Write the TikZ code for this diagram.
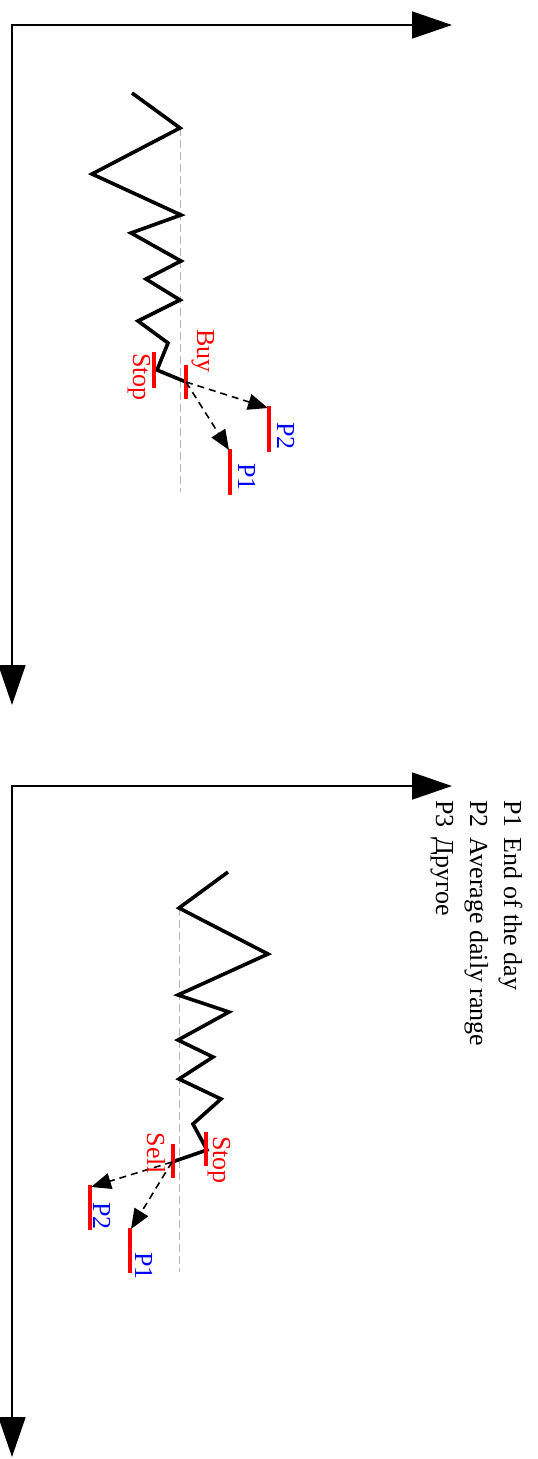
\documentclass[tikz,border=0pt]{standalone}
\usepackage{fontspec}
\setmainfont{Liberation Serif}
\usetikzlibrary{arrows.meta}

\begin{document}
\begin{tikzpicture}[x=1pt,y=-1pt,
        axis/.style={line width=1.8pt,{Triangle[length=40pt,width=27pt]}-{Triangle[length=40pt,width=27pt]}},
        zig/.style={line width=3.6pt},
        level/.style={red,line width=3.4pt},
        guide/.style={gray!60,line width=1pt,dash pattern=on 8pt off 4pt},
        target/.style={line width=1.6pt,dash pattern=on 7pt off 5pt,-{Triangle[length=20pt,width=16pt]}},
        lbl/.style={rotate=-90,anchor=base,inner sep=0pt,font=\fontsize{26}{30}\selectfont}]
        \useasboundingbox (0,0) rectangle (538,1459);

        % upper chart: buy
        \draw[axis] (12,705) -- (12,25) -- (452,25);
        \draw[guide] (180,128) -- (180,492);
        \coordinate (stopA) at (157,370);
        \coordinate (buy) at (186,382);
        \draw[zig] (132,93) -- (180,128) -- (92,174) -- (181,215) -- (131,233) -- (181,261)
                -- (146,279) -- (180,300) -- (138,321) -- (168,343) -- (stopA) -- (buy);
        \draw[level] (154,352) -- (154,388);
        \draw[level] (186,365) -- (186,399);
        \draw[level] (269,406) -- (269,452);
        \draw[level] (230,449) -- (230,495);
        \coordinate (p2A) at (268,408);
        \coordinate (p1A) at (229,450);
        \draw[target] (buy) -- (p2A);
        \draw[target] (buy) -- (p1A);
        \node[lbl,red] (stoplblA) at (133,377) {Stop};
        \node[lbl,red] (buylbl) at (197,351) {Buy};
        \node[lbl,blue] (p2lblA) at (277,436) {P2};
        \node[lbl,blue] (p1lblA) at (238,477) {P1};

        % lower chart: sell
        \draw[axis] (12,1457) -- (12,786) -- (452,786);
        \draw[guide] (179,908) -- (179,1272);
        \coordinate (stopB) at (207,1150);
        \coordinate (sell) at (172,1162);
        \draw[zig] (228,872) -- (179,908) -- (268,954) -- (178,995) -- (229,1012) -- (178,1040)
                -- (213,1057) -- (179,1079) -- (221,1099) -- (193,1124) -- (stopB) -- (sell);
        \draw[level] (206,1132) -- (206,1166);
        \draw[level] (173,1144) -- (173,1178);
        \draw[level] (90,1185) -- (90,1230);
        \draw[level] (130,1228) -- (130,1273);
        \coordinate (p2B) at (91,1187);
        \coordinate (p1B) at (131,1229);
        \draw[target] (sell) -- (p2B);
        \draw[target] (sell) -- (p1B);
        \node[lbl,red] (stoplblB) at (213,1160) {Stop};
        \node[lbl,red] (selllbl) at (147,1153) {Sell};
        \node[lbl,blue] (p2lblB) at (93,1216) {P2};
        \node[lbl,blue] (p1lblB) at (135,1266) {P1};

        % legend
        \node[rotate=-90,anchor=base west,inner sep=0pt,font=\fontsize{26}{34}\selectfont] (legend) at (504,800)
                {\begin{tabular}[t]{@{}l@{\hspace{10pt}}l@{}}
                P1 & End of the day\\
                P2 & Average daily range\\
                P3 & Другое
                \end{tabular}};
\end{tikzpicture}
\end{document}
